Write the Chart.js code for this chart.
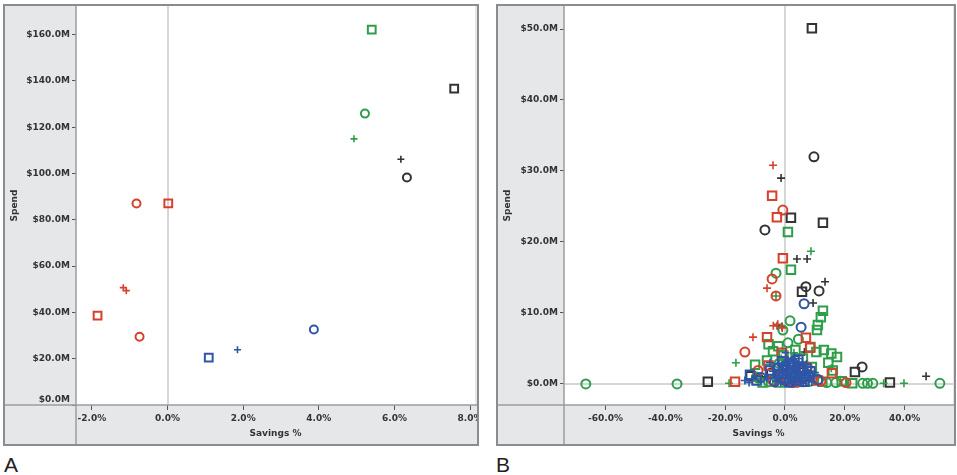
<!DOCTYPE html>
<html>
<head>
<meta charset="utf-8">
<script src="https://cdn.jsdelivr.net/npm/chart.js@4/dist/chart.umd.min.js"></script>
<style>
  html, body { margin: 0; padding: 0; background: #fff; width: 957px; height: 475px; overflow: hidden; }
  .panel { position: absolute; }
  #wrapA { left: 3px; top: 4px; width: 476px; height: 442px; }
  #wrapB { left: 496px; top: 4px; width: 460px; height: 442px; }
  .tag { position: absolute; font-family: "Liberation Sans", Arial, sans-serif; font-size: 21px; color: #222; line-height: 1; }
</style>
</head>
<body>
<div class="panel" id="wrapA"><canvas id="chartA" width="476" height="442"></canvas></div>
<div class="panel" id="wrapB"><canvas id="chartB" width="460" height="442"></canvas></div>
<div class="tag" style="left:4px;top:454px">A</div>
<div class="tag" style="left:496px;top:454px">B</div>
<script>
// ---- Panel A: spend vs. savings, one point per supplier group ----
const aXTicks = [-2, 0, 2, 4, 6, 8];
const aYTicks = [0, 20, 40, 60, 80, 100, 120, 140, 160];
const aRedCircles   = [[-0.82, 87.1], [-0.74, 29.5]];
const aRedSquares   = [[0.02, 87.1], [-1.85, 38.6]];
const aRedPlus      = [[-1.17, 50.7], [-1.09, 49.4]];
const aBlueCircles  = [[3.87, 32.6]];
const aBlueSquares  = [[1.09, 20.5]];
const aBluePlus     = [[1.85, 23.9]];
const aGreenCircles = [[5.22, 125.9]];
const aGreenSquares = [[5.40, 162.2]];
const aGreenPlus    = [[4.93, 115.0]];
const aBlackCircles = [[6.33, 98.3]];
const aBlackSquares = [[7.58, 136.7]];
const aBlackPlus    = [[6.17, 106.2]];

// ---- Panel B: spend vs. savings, individual items ----
const bXTicks = [-60, -40, -20, 0, 20, 40];
const bYTicks = [0, 10, 20, 30, 40, 50];
const bBlackCircles = [[9.7,32.0],[-6.7,21.7],[7.0,13.7],[11.4,13.1],[25.8,2.4],[-9.0,0.9],[-4.5,1.6],[3.0,0.6]];
const bBlackSquares = [[9.0,50.1],[2.0,23.4],[12.7,22.7],[5.7,13.0],[23.4,1.7],[35.1,0.2],[-25.8,0.3],[-11.5,1.1],[1.5,0.3]];
const bBlackPlus    = [[-1.3,29.0],[4.0,17.6],[7.4,17.6],[13.4,14.4],[9.4,11.4],[47.2,1.1],[-2.6,8.2],[-1.0,8.1],[4.5,2.2],[-6.0,1.0],[6.5,4.5],[1.0,3.2]];
const bRedCircles   = [[-0.7,24.5],[-4.3,14.8],[-3.0,12.4],[-13.4,4.5],[-9.0,1.9],[-4.0,0.5],[20.4,0.2],[7.5,2.4],[-0.5,1.2],[12.0,0.4]];
const bRedSquares   = [[-4.3,26.5],[-2.7,23.5],[-0.7,17.7],[-6.0,6.6],[-16.7,0.3],[7.0,6.5],[8.4,5.1],[-1.0,4.4],[15.7,1.5],[-5.5,2.6],[3.0,0.2],[11.0,0.5]];
const bRedPlus      = [[-4.0,30.8],[-6.0,13.5],[-10.7,6.6],[-3.9,8.2],[-0.9,7.9],[-2.4,8.4],[1.0,0.3],[4.0,0.5],[6.0,0.2],[-1.5,0.6],[9.5,0.8]];
const bGreenCircles = [[-3.0,15.6],[1.7,8.9],[-0.7,7.6],[-66.6,0.0],[-36.1,0.0],[26.0,0.1],[27.6,0.1],[29.4,0.1],[51.8,0.1],[-9.5,1.0],[2.5,1.8],[14.0,0.2],[-5.5,0.3],[8.5,0.4],[17.0,0.2],[-2.0,2.9],[1.0,5.8],[4.5,6.3]];
const bGreenSquares = [[1.0,21.4],[2.0,16.1],[12.7,10.3],[12.0,9.4],[11.0,8.3],[10.7,7.6],[-5.5,5.6],[-4.0,4.6],[-2.2,5.3],[-0.5,4.0],[-6.0,3.3],[8.5,5.2],[10.5,4.5],[13.0,4.8],[15.5,4.3],[17.4,3.8],[14.5,3.0],[-10.0,2.7],[6.0,3.6],[3.5,4.8],[19.0,0.4],[22.5,0.1],[-2.0,0.2],[4.5,0.3],[12.5,0.3],[-7.5,0.2],[9.0,2.4],[16.0,1.9]];
const bGreenPlus    = [[8.7,18.7],[-3.0,12.4],[-16.4,3.0],[-18.7,0.1],[39.8,0.1],[33.0,0.1],[7.0,2.6],[-8.0,0.6],[15.5,2.2],[10.5,1.3],[3.0,4.4],[-1.2,3.6],[18.5,0.6],[5.5,0.1]];
const bBlueCircles  = [[6.4,11.3],[5.4,8.0],[-8.0,0.9],[-2.5,2.3],[1.0,1.7],[4.0,0.5],[8.0,1.3],[-3.5,0.3],[11.0,0.6],[2.5,3.1],[6.0,2.0],[3.3,1.2],[0.2,2.6]];
const bBlueSquares  = [[-11.7,1.3],[-9.5,0.5],[-2.0,1.4],[0.0,0.6],[2.0,2.6],[3.5,1.0],[5.0,2.1],[6.5,0.3],[-1.0,3.2],[8.5,1.8],[1.5,0.2],[-5.0,1.9],[4.5,3.4],[2.6,1.6],[7.0,1.1],[-0.4,2.1]];
const bBluePlus     = [[-13.4,0.5],[-12.0,0.2],[-6.0,0.8],[-4.0,1.8],[-3.0,0.4],[-2.0,2.8],[-1.0,1.2],[0.0,0.3],[0.5,2.0],[1.0,3.4],[1.5,1.0],[2.0,0.6],[2.5,2.2],[3.0,1.4],[3.5,0.2],[4.0,2.8],[4.5,1.0],[5.0,1.8],[5.5,0.5],[6.0,2.4],[6.5,1.2],[7.0,0.4],[7.5,1.9],[8.0,0.9],[9.0,0.3],[10.0,1.6],[-5.0,3.0],[0.2,4.4],[3.2,3.9],[-2.6,0.9],[1.2,1.7],[2.8,2.9],[4.2,0.7],[5.8,3.1],[-0.5,2.5],[2.2,0.1],[7.2,2.8],[-1.8,1.9],[3.8,2.0],[6.8,0.8],[8.6,2.4],[0.8,0.8],[-3.6,1.2],[-1.4,0.2],[0.4,1.4],[1.8,2.5],[3.6,0.6],[4.8,2.6],[5.2,1.3],[6.2,0.1],[7.8,1.5],[9.4,1.1],[-0.2,3.0],[2.4,3.5],[4.6,3.6],[-2.2,1.6]];

const RED = '#d6402c', BLUE = '#2f55a6', GREEN = '#2e9e4a', BLACK = '#333333';

function series(points, color, shape, radius, width) {
  return {
    data: points.map(([x, y]) => ({ x, y })),
    pointStyle: shape,
    pointRadius: radius,
    pointHoverRadius: radius,
    pointBorderColor: color,
    pointBackgroundColor: 'rgba(0,0,0,0)',
    pointBorderWidth: width,
    showLine: false
  };
}

// Panel chrome: grey axis bands, white plot area, zero lines, dividers and frame
const panelChrome = {
  id: 'panelChrome',
  beforeDraw(chart) {
    const { ctx, width, height, chartArea: a } = chart;
    ctx.save();
    ctx.fillStyle = '#e5e7e9';
    ctx.fillRect(0, 0, width, height);
    ctx.fillStyle = '#ffffff';
    ctx.fillRect(a.left, a.top, a.right - a.left, a.bottom - a.top);
    ctx.restore();
  },
  beforeDatasetsDraw(chart, args, opts) {
    const { ctx, chartArea: a, scales } = chart;
    ctx.save();
    ctx.strokeStyle = '#c9c9c9';
    ctx.lineWidth = 1.5;
    const x0 = Math.round(scales.x.getPixelForValue(0));
    ctx.beginPath(); ctx.moveTo(x0, a.top); ctx.lineTo(x0, a.bottom); ctx.stroke();
    if (opts.zeroY) {
      const y0 = Math.round(scales.y.getPixelForValue(0));
      ctx.beginPath(); ctx.moveTo(a.left, y0); ctx.lineTo(a.right, y0); ctx.stroke();
    }
    ctx.restore();
  },
  afterDraw(chart) {
    const { ctx, width, height, chartArea: a } = chart;
    ctx.save();
    ctx.strokeStyle = '#9a9c9e';
    ctx.lineWidth = 1.5;
    ctx.beginPath(); ctx.moveTo(a.left, 0); ctx.lineTo(a.left, height); ctx.stroke();
    ctx.beginPath(); ctx.moveTo(0, a.bottom); ctx.lineTo(width, a.bottom); ctx.stroke();
    ctx.strokeStyle = '#8a8c8e';
    ctx.lineWidth = 2;
    ctx.strokeRect(1, 1, width - 2, height - 2);
    ctx.restore();
  }
};

const tickFont = { family: '"DejaVu Sans", Verdana, sans-serif', size: 9, weight: 'bold' };
const titleFont = { family: '"DejaVu Sans", Verdana, sans-serif', size: 9, weight: 'bold' };

// Fixed-size axis bands; label overhang must not shrink the plot area
function fixBand(prop, size) {
  return s => {
    s[prop] = size;
    s.paddingTop = 0; s.paddingBottom = 0; s.paddingLeft = 0; s.paddingRight = 0;
  };
}

function buildChart(id, cfg) {
  const money = v => '$' + v.toFixed(1) + 'M';
  return new Chart(document.getElementById(id), {
    type: 'scatter',
    data: { datasets: cfg.datasets },
    plugins: [panelChrome],
    options: {
      responsive: false,
      animation: false,
      devicePixelRatio: 1,
      events: [],
      layout: { padding: cfg.padding, autoPadding: false },
      plugins: {
        legend: { display: false },
        tooltip: { enabled: false },
        panelChrome: { zeroY: cfg.zeroY }
      },
      scales: {
        x: {
          type: 'linear',
          min: cfg.xMin, max: cfg.xMax,
          afterBuildTicks: s => { s.ticks = cfg.xTicks.map(v => ({ value: v })); },
          afterFit: fixBand('height', cfg.xBand),
          ticks: { callback: v => v.toFixed(1) + '%', font: tickFont, color: '#333', padding: 3, autoSkip: false, maxRotation: 0 },
          grid: { drawOnChartArea: false, drawTicks: true, tickLength: 5, color: '#555', lineWidth: 1 },
          border: { display: false },
          title: { display: true, text: 'Savings %', font: titleFont, color: '#333', padding: { top: 0, bottom: 5 } }
        },
        y: {
          type: 'linear',
          min: cfg.yMin, max: cfg.yMax,
          afterBuildTicks: s => { s.ticks = cfg.yTicks.map(v => ({ value: v })); },
          afterFit: fixBand('width', cfg.yBand),
          // a label sitting on the bottom edge is lifted above the axis line
          ticks: { callback: v => v === cfg.yMin ? [money(v), ''] : money(v), font: tickFont, color: '#333', padding: 2, autoSkip: false },
          grid: { drawOnChartArea: false, drawTicks: true, tickLength: 4, color: '#555', lineWidth: 1 },
          border: { display: false },
          title: { display: true, text: 'Spend', font: titleFont, color: '#333', padding: { top: 4, bottom: 0 } }
        }
      }
    }
  });
}

buildChart('chartA', {
  xMin: -2.42, xMax: 8.13, yMin: 0, yMax: 172.4,
  xTicks: aXTicks, yTicks: aYTicks,
  padding: { left: 2, top: 2, right: 4, bottom: 2 },
  yBand: 71, xBand: 39, zeroY: false,
  datasets: [
    series(aBluePlus, BLUE, 'cross', 3.5, 1.6),
    series(aBlueSquares, BLUE, 'rect', 5.5, 2),
    series(aBlueCircles, BLUE, 'circle', 4, 2),
    series(aRedPlus, RED, 'cross', 3.5, 1.6),
    series(aRedSquares, RED, 'rect', 5.5, 2),
    series(aRedCircles, RED, 'circle', 4, 2),
    series(aGreenPlus, GREEN, 'cross', 3.5, 1.6),
    series(aGreenSquares, GREEN, 'rect', 5.5, 2),
    series(aGreenCircles, GREEN, 'circle', 4, 2),
    series(aBlackPlus, BLACK, 'cross', 3.5, 1.6),
    series(aBlackSquares, BLACK, 'rect', 5.5, 2),
    series(aBlackCircles, BLACK, 'circle', 4, 2)
  ]
});

buildChart('chartB', {
  xMin: -73.9, xMax: 56.2, yMin: -2.96, yMax: 53.24,
  xTicks: bXTicks, yTicks: bYTicks,
  padding: { left: 2, top: 2, right: 3, bottom: 2 },
  yBand: 66, xBand: 39, zeroY: true,
  datasets: [
    series(bBluePlus, BLUE, 'cross', 4, 1.6),
    series(bBlueSquares, BLUE, 'rect', 6, 2),
    series(bBlueCircles, BLUE, 'circle', 4.5, 2),
    series(bRedPlus, RED, 'cross', 4, 1.6),
    series(bRedSquares, RED, 'rect', 6, 2),
    series(bRedCircles, RED, 'circle', 4.5, 2),
    series(bGreenPlus, GREEN, 'cross', 4, 1.6),
    series(bGreenSquares, GREEN, 'rect', 6, 2),
    series(bGreenCircles, GREEN, 'circle', 4.5, 2),
    series(bBlackPlus, BLACK, 'cross', 4, 1.6),
    series(bBlackSquares, BLACK, 'rect', 6, 2),
    series(bBlackCircles, BLACK, 'circle', 4.5, 2)
  ]
});
</script>
</body>
</html>
